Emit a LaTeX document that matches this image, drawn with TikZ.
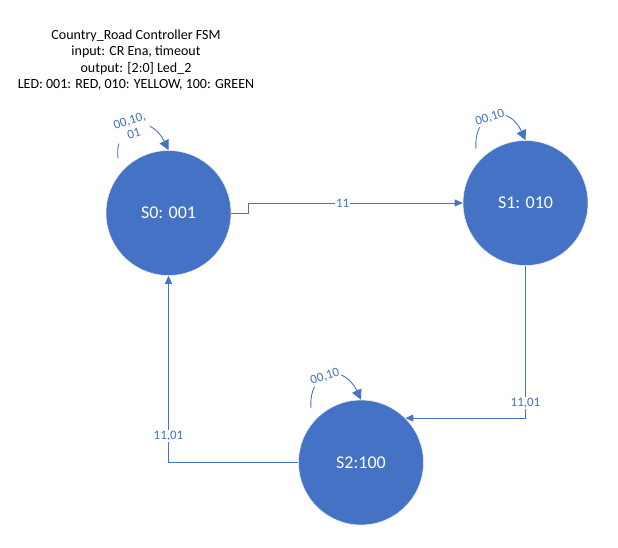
\documentclass[tikz,border=0pt]{standalone}
\usepackage{fontspec}
\setmainfont{Carlito}
\usetikzlibrary{arrows.meta,calc}
\definecolor{stateblue}{RGB}{68,114,196}
\tikzset{
  state/.style={circle,fill=stateblue,draw=white!85!gray,line width=0.6pt,
    minimum size=125pt,inner sep=0pt,text=white,font=\fontsize{18}{20}\selectfont},
  trans/.style={draw=stateblue,line width=0.9pt,-{Triangle[length=8pt,width=7pt]}},
  selfloop/.style={draw=stateblue,line width=0.9pt,-{Triangle[length=10pt,width=10pt]}},
  translabel/.style={fill=white,text=stateblue,inner sep=1pt,font=\fontsize{13}{14}\selectfont},
  looplabel/.style={translabel,align=center,rotate=18,font=\fontsize{13}{14}\selectfont},
}
\begin{document}
\begin{tikzpicture}[x=1pt,y=-1pt]
  \useasboundingbox (0,0) rectangle (618,547);
  \node[align=center,font=\fontsize{14}{16.3}\selectfont] (title) at (136,60)
    {Country\_Road Controller FSM\\input: CR Ena, timeout\\output: [2:0] Led\_2\\LED: 001: RED, 010: YELLOW, 100: GREEN};
  \node[state] (s0) at (168.5,213) {S0: 001};
  \node[state] (s1) at (525.5,203) {S1: 010};
  \node[state] (s2) at (361,462.5) {S2:100};
  % transitions
  \draw[trans] (s0.east) -- ++(17,0) |- node[translabel,pos=0.72]{11} (s1.west);
  \draw[trans] (s1.south) |- node[translabel,pos=0.45]{11,01} (s2.45);
  \draw[trans] (s2.west) -| node[translabel,pos=0.57]{11,01} (s0.south);
  % self loops
  \draw[selfloop] ($(s0)+(-50.5,-55)$) .. controls ($(s0)+(-54.5,-91)$) and ($(s0)+(-18.5,-101)$)
    .. node[looplabel,pos=0.45]{00,10,\\01} (s0.north);
  \draw[selfloop] ($(s1)+(-49.5,-54)$) .. controls ($(s1)+(-52.5,-91)$) and ($(s1)+(-17.5,-101)$)
    .. node[looplabel,pos=0.45]{00,10} (s1.north);
  \draw[selfloop] ($(s2)+(-50,-54.5)$) .. controls ($(s2)+(-53,-91)$) and ($(s2)+(-18,-101)$)
    .. node[looplabel,pos=0.45]{00,10} (s2.north);
\end{tikzpicture}
\end{document}
